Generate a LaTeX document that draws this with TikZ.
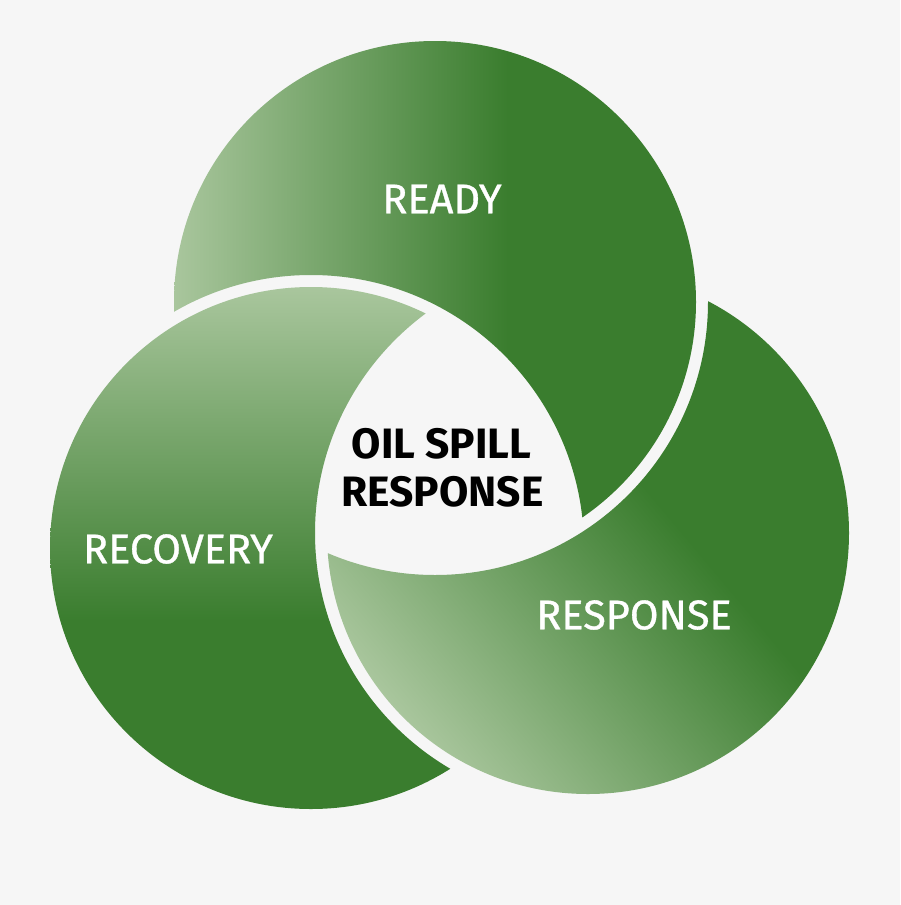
\documentclass[tikz,border=0pt]{standalone}
\usepackage{fontspec}
\setmainfont{Fira Sans}
\definecolor{bg}{HTML}{F6F6F6}
\definecolor{pale}{HTML}{A9C69D}
\definecolor{deep}{HTML}{3A7D2E}
\pgfdeclarehorizontalshading{greenfade}{100bp}{color(0bp)=(pale); color(25bp)=(pale); color(57bp)=(deep); color(100bp)=(deep)}
\begin{document}
\begin{tikzpicture}[x=1pt,y=-1pt,
  lbl/.style={text=white, font=\fontsize{41.5}{48}\selectfont\addfontfeature{FakeBold=0.8}, inner sep=0pt},
  coretext/.style={text=black, font=\fontsize{42.5}{48}\selectfont\bfseries, inner sep=0pt},
  disc/.style={shading=greenfade}]
\useasboundingbox (0,0) rectangle (900,905);
\fill[bg] (0,0) rectangle (900,905);
\def\R{261}
\def\Rg{273}
\coordinate (A) at (435,302);
\coordinate (B) at (588,533);
\coordinate (C) at (311,548);
% READY: circle A without the area of C (plus gap)
\begin{scope}
  \clip (-100,-100) -- (-100,1100) -- (1100,1100) -- (1100,-100) -- cycle (C) circle (\Rg);
  \shade[disc, shading angle=0] (A) circle (\R);
\end{scope}
% RESPONSE: circle B without the area of A (plus gap)
\begin{scope}
  \clip (-100,-100) -- (-100,1100) -- (1100,1100) -- (1100,-100) -- cycle (A) circle (\Rg);
  \shade[disc, shading angle=40] (B) circle (\R);
\end{scope}
% RECOVERY: circle C without the area of B (plus gap)
\begin{scope}
  \clip (-100,-100) -- (-100,1100) -- (1100,1100) -- (1100,-100) -- cycle (B) circle (\Rg);
  \shade[disc, shading angle=-90] (C) circle (\R);
\end{scope}
\node[lbl] (ready) at (442,199) {READY};
\node[lbl] (recovery) at (178,549) {RECOVERY};
\node[lbl] (response) at (634,615) {RESPONSE};
\node[coretext] (oil) at (441.5,443.5) {OIL SPILL};
\node[coretext] (resp) at (442.5,492) {RESPONSE};
\end{tikzpicture}
\end{document}
